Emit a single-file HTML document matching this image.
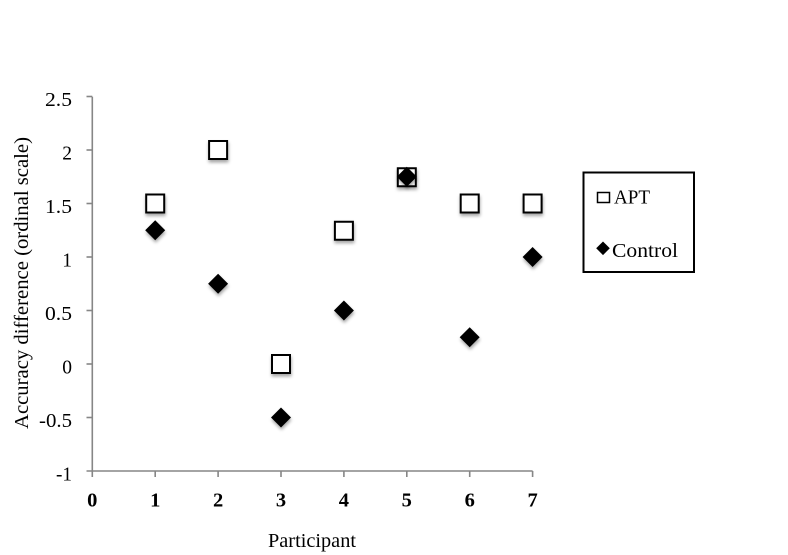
<!DOCTYPE html>
<html>
<head>
<meta charset="utf-8">
<style>
  html,body{margin:0;padding:0;background:#fff;}
  svg{display:block;}
  text{font-family:"Liberation Serif","Times New Roman",serif;fill:#000;}
</style>
</head>
<body>
<svg width="788" height="555" viewBox="0 0 788 555" xmlns="http://www.w3.org/2000/svg">
  <defs>
    <filter id="sh" x="-50%" y="-50%" width="200%" height="200%">
      <feDropShadow dx="0.5" dy="2.5" stdDeviation="1.5" flood-color="#000" flood-opacity="0.35"/>
    </filter>
  </defs>
  <rect width="788" height="555" fill="#fff"/>

  <!-- axes -->
  <g stroke="#868686" stroke-width="1.6" fill="none">
    <line x1="92.3" y1="96.7" x2="92.3" y2="471"/>
    <line x1="86.5" y1="471" x2="532.6" y2="471"/>
    <line x1="86.5" y1="96.5" x2="92.3" y2="96.5"/>
    <line x1="86.5" y1="150" x2="92.3" y2="150"/>
    <line x1="86.5" y1="203.5" x2="92.3" y2="203.5"/>
    <line x1="86.5" y1="257" x2="92.3" y2="257"/>
    <line x1="86.5" y1="310.5" x2="92.3" y2="310.5"/>
    <line x1="86.5" y1="364" x2="92.3" y2="364"/>
    <line x1="86.5" y1="417.5" x2="92.3" y2="417.5"/>
    <line x1="92.3" y1="471" x2="92.3" y2="477"/>
    <line x1="155.2" y1="471" x2="155.2" y2="477"/>
    <line x1="218.1" y1="471" x2="218.1" y2="477"/>
    <line x1="281" y1="471" x2="281" y2="477"/>
    <line x1="343.9" y1="471" x2="343.9" y2="477"/>
    <line x1="406.8" y1="471" x2="406.8" y2="477"/>
    <line x1="469.7" y1="471" x2="469.7" y2="477"/>
    <line x1="532.6" y1="471" x2="532.6" y2="477"/>
  </g>

  <!-- y tick labels -->
  <g font-size="19.5" text-anchor="end">
    <text x="72" y="106" textLength="27" lengthAdjust="spacingAndGlyphs">2.5</text>
    <text x="72" y="159.5">2</text>
    <text x="72" y="213" textLength="27" lengthAdjust="spacingAndGlyphs">1.5</text>
    <text x="72" y="266.5">1</text>
    <text x="72" y="320" textLength="27" lengthAdjust="spacingAndGlyphs">0.5</text>
    <text x="72" y="373.5">0</text>
    <text x="72" y="427" textLength="33" lengthAdjust="spacingAndGlyphs">-0.5</text>
    <text x="72" y="480.5" textLength="16" lengthAdjust="spacingAndGlyphs">-1</text>
  </g>

  <!-- x tick labels -->
  <g font-size="20.5" font-weight="bold" text-anchor="middle">
    <text x="92.3" y="506.5">0</text>
    <text x="155.2" y="506.5">1</text>
    <text x="218.1" y="506.5">2</text>
    <text x="281" y="506.5">3</text>
    <text x="343.9" y="506.5">4</text>
    <text x="406.8" y="506.5">5</text>
    <text x="469.7" y="506.5">6</text>
    <text x="532.6" y="506.5">7</text>
  </g>

  <!-- axis titles -->
  <text x="268" y="547" font-size="19.5" textLength="88" lengthAdjust="spacingAndGlyphs">Participant</text>
  <text transform="translate(28,429) rotate(-90)" x="0" y="0" font-size="20" textLength="292" lengthAdjust="spacingAndGlyphs">Accuracy difference (ordinal scale)</text>

  <!-- APT squares -->
  <g fill="#fff" stroke="#000" stroke-width="2" filter="url(#sh)">
    <rect x="146.2" y="194.5" width="18" height="18"/>
    <rect x="209.1" y="141" width="18" height="18"/>
    <rect x="272" y="355" width="18" height="18"/>
    <rect x="334.9" y="221.75" width="18" height="18"/>
    <rect x="397.8" y="168.25" width="18" height="18"/>
    <rect x="460.7" y="194.5" width="18" height="18"/>
    <rect x="523.6" y="194.5" width="18" height="18"/>
  </g>

  <!-- Control diamonds -->
  <g fill="#000" filter="url(#sh)">
    <polygon points="155.2,220.25 165.2,230.25 155.2,240.25 145.2,230.25"/>
    <polygon points="218.1,273.75 228.1,283.75 218.1,293.75 208.1,283.75"/>
    <polygon points="281,407.5 291,417.5 281,427.5 271,417.5"/>
    <polygon points="343.9,300.5 353.9,310.5 343.9,320.5 333.9,310.5"/>
    <polygon points="406.8,166.75 416.8,176.75 406.8,186.75 396.8,176.75"/>
    <polygon points="469.7,327.25 479.7,337.25 469.7,347.25 459.7,337.25"/>
    <polygon points="532.6,247 542.6,257 532.6,267 522.6,257"/>
  </g>

  <!-- legend -->
  <rect x="583.5" y="172.5" width="110.5" height="99.5" fill="#fff" stroke="#000" stroke-width="2"/>
  <rect x="597.5" y="192.5" width="12" height="10" fill="#fff" stroke="#000" stroke-width="1.5"/>
  <text x="614" y="203.5" font-size="19.5" textLength="36" lengthAdjust="spacingAndGlyphs">APT</text>
  <polygon points="603,241.5 609.8,248.3 603,255.1 596.2,248.3" fill="#000"/>
  <text x="612" y="257" font-size="19.5" textLength="66" lengthAdjust="spacingAndGlyphs">Control</text>
</svg>
</body>
</html>
